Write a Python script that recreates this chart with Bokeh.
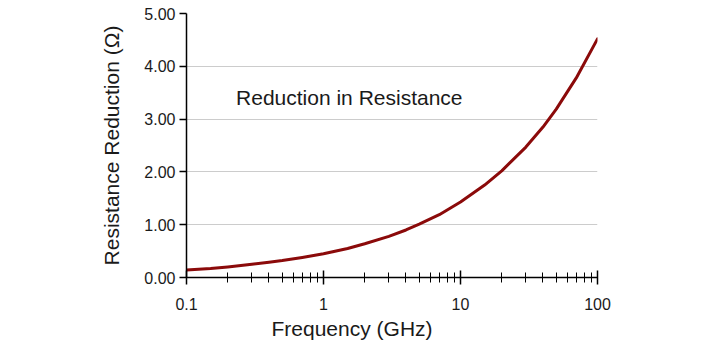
from bokeh.plotting import figure
from bokeh.models import FixedTicker, NumeralTickFormatter, CustomJSTickFormatter, Label, Range1d, Title
from bokeh.embed import file_html
from bokeh.resources import INLINE

# Data
freq_ghz = [0.1, 0.15, 0.2, 0.3, 0.4, 0.5, 0.7, 1, 1.5, 2, 3, 4, 5, 7, 10, 15, 20, 30, 40, 50, 70, 100]
reduction_ohm = [0.14, 0.17, 0.20, 0.25, 0.29, 0.32, 0.38, 0.45, 0.55, 0.64, 0.78, 0.90, 1.01, 1.19,
                 1.43, 1.75, 2.02, 2.47, 2.85, 3.19, 3.78, 4.52]

x_major = [0.1, 1, 10, 100]
x_minor = [m * d for d in [0.1, 1, 10] for m in range(2, 10)]
y_major = [0, 1, 2, 3, 4, 5]

FONT = "Liberation Sans"
TXT = "#1a1a1a"

p = figure(width=711, height=350, x_axis_type="log",
           x_range=Range1d(0.1, 100), y_range=Range1d(0, 5),
           output_backend="svg", toolbar_location=None,
           min_border_left=186, min_border_right=114,
           min_border_top=13, min_border_bottom=73)
p.outline_line_color = None
p.background_fill_color = "white"
p.border_fill_color = "white"

p.line(freq_ghz, reduction_ohm, line_color="#8b0a0a", line_width=3,
       line_join="round", line_cap="round")

# x axis
xa = p.xaxis[0]
xa.ticker = FixedTicker(ticks=x_major, minor_ticks=x_minor)
xa.formatter = CustomJSTickFormatter(code="return tick.toString();")
xa.axis_line_color = "black"
xa.axis_line_width = 1.5
xa.major_tick_in = 7
xa.major_tick_out = 7
xa.minor_tick_in = 5
xa.minor_tick_out = 5
xa.major_tick_line_color = "black"
xa.major_tick_line_width = 1.5
xa.minor_tick_line_color = "black"
xa.minor_tick_line_width = 1
xa.major_label_standoff = 13
xa.major_label_text_font = FONT
xa.major_label_text_font_size = "16px"
xa.major_label_text_color = TXT

# x axis title (left of centre in the reference)
p.add_layout(Title(text="Frequency (GHz)", align="left", offset=85, standoff=5,
                   text_font=FONT, text_font_size="21px", text_font_style="normal",
                   text_color=TXT), "below")

# y axis
ya = p.yaxis[0]
ya.ticker = FixedTicker(ticks=y_major)
ya.formatter = NumeralTickFormatter(format="0.00")
ya.axis_label = "Resistance Reduction (Ω)"
ya.axis_line_color = "black"
ya.axis_line_width = 1.5
ya.major_tick_in = 0
ya.major_tick_out = 7
ya.minor_tick_in = 0
ya.minor_tick_out = 0
ya.major_tick_line_color = "black"
ya.major_tick_line_width = 1.5
ya.major_label_standoff = 4
ya.axis_label_standoff = 18
ya.major_label_text_font = FONT
ya.major_label_text_font_size = "16px"
ya.major_label_text_color = TXT
ya.axis_label_text_font = FONT
ya.axis_label_text_font_size = "21px"
ya.axis_label_text_font_style = "normal"
ya.axis_label_text_color = TXT

p.xgrid.grid_line_color = None
p.ygrid.ticker = FixedTicker(ticks=y_major)
p.ygrid.grid_line_color = "#cccccc"
p.ygrid.grid_line_width = 1

p.add_layout(Label(x=0.23, y=3.4, text="Reduction in Resistance",
                   text_font=FONT, text_font_size="21px", text_color=TXT,
                   text_baseline="middle", text_align="left"))

open("out.html", "w").write(file_html(p, INLINE))
